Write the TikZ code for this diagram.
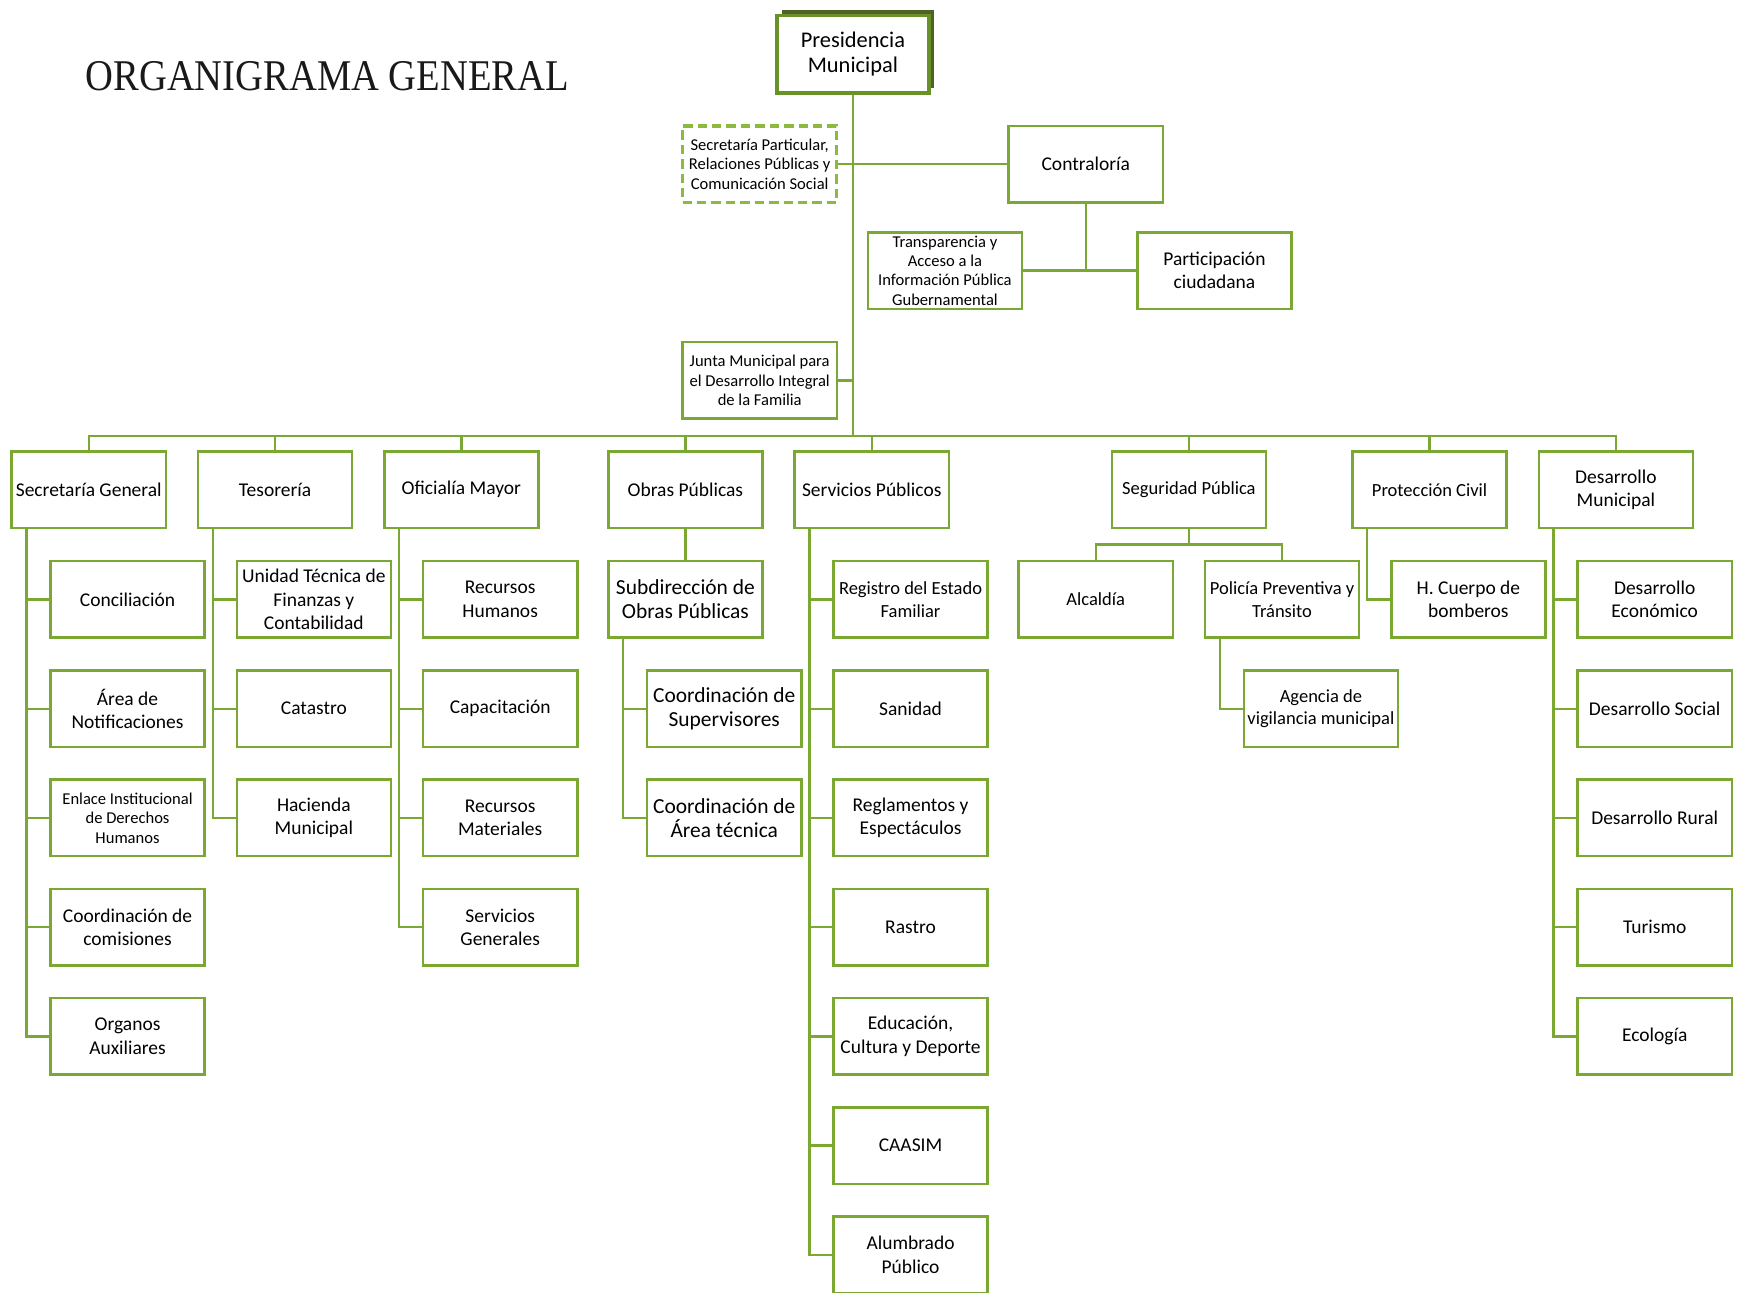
\documentclass[tikz,border=0pt]{standalone}
\usepackage{fontspec}
\setmainfont{Carlito}
\newfontfamily\titlefont[FakeStretch=0.88]{Liberation Serif}
\usetikzlibrary{shadows}
\definecolor{orggreen}{RGB}{122,168,50}
\definecolor{dashgreen}{RGB}{140,186,62}
\definecolor{presgreen}{RGB}{104,146,40}
\definecolor{presshadow}{RGB}{79,98,40}

\begin{document}
\begin{tikzpicture}[x=0.2mm,y=-0.2mm,
    unit/.style={draw=orggreen, line width=1.3pt, fill=white, minimum width=27.8mm, minimum height=13.8mm, align=center, inner sep=1pt, font=\fontsize{10}{12}\selectfont},
    midunit/.style={unit, font=\fontsize{9.5}{11.5}\selectfont},
    smallunit/.style={unit, inner sep=0.5pt, font=\fontsize{8.5}{10}\selectfont},
    bigunit/.style={unit, font=\fontsize{11}{12.5}\selectfont},
    link/.style={draw=orggreen, line width=1.2pt}]
    \useasboundingbox (0,0) rectangle (1568,1165);

    \node[anchor=base west, text=black!90, font=\titlefont\fontsize{22.5}{26}\selectfont] (title) at (71,82) {ORGANIGRAMA GENERAL};

    \node[unit, draw=presgreen, line width=1.8pt, minimum width=27.4mm, minimum height=14mm, font=\fontsize{11.5}{13}\selectfont,
        general shadow={fill=presshadow, shadow xshift=1mm, shadow yshift=1mm}] (pres) at (769,49) {Presidencia\\Municipal};
    \node[smallunit, draw=dashgreen, line width=1.7pt, dash pattern=on 1.7mm off 0.9mm] (spart) at (685,148) {Secretaría Particular,\\Relaciones Públicas y\\Comunicación Social};
    \node[unit] (contra) at (979,148) {Contraloría};
    \node[smallunit] (transp) at (852,244) {Transparencia y\\Acceso a la\\Información Pública\\Gubernamental};
    \node[unit] (partic) at (1095,244) {Participación\\ciudadana};
    \node[smallunit] (junta) at (685,343) {Junta Municipal para\\el Desarrollo Integral\\de la Familia};

    \node[unit] (secgen) at (80,441.5) {Secretaría General};
    \node[unit] (tesor) at (248,441.5) {Tesorería};
    \node[unit] (ofmay) at (416,441.5) {Oficialía Mayor};
    \node[unit] (obras) at (618,441.5) {Obras Públicas};
    \node[unit] (servp) at (786,441.5) {Servicios Públicos};
    \node[midunit] (segp) at (1072,441.5) {Seguridad Pública};
    \node[midunit] (protc) at (1289,441.5) {Protección Civil};
    \node[unit] (desm) at (1457,441.5) {Desarrollo\\Municipal};

    \node[unit] (conc) at (115,540.5) {Conciliación};
    \node[unit] (notif) at (115,639) {Área de\\Notificaciones};
    \node[smallunit] (dhum) at (115,737.5) {Enlace Institucional\\de Derechos\\Humanos};
    \node[unit] (comis) at (115,836) {Coordinación de\\comisiones};
    \node[unit] (organ) at (115,934.5) {Organos\\Auxiliares};

    \node[unit] (utfc) at (283,540.5) {Unidad Técnica de\\Finanzas y\\Contabilidad};
    \node[unit] (catas) at (283,639) {Catastro};
    \node[unit] (hacie) at (283,737.5) {Hacienda\\Municipal};

    \node[unit] (rhum) at (451,540.5) {Recursos\\Humanos};
    \node[unit] (capac) at (451,639) {Capacitación};
    \node[unit] (rmat) at (451,737.5) {Recursos\\Materiales};
    \node[unit] (sgen) at (451,836) {Servicios\\Generales};

    \node[bigunit] (subop) at (618,540.5) {Subdirección de\\Obras Públicas};
    \node[bigunit] (csup) at (653,639) {Coordinación de\\Supervisores};
    \node[bigunit] (carea) at (653,737.5) {Coordinación de\\Área técnica};

    \node[midunit] (regis) at (821,540.5) {Registro del Estado\\Familiar};
    \node[unit] (sanid) at (821,639) {Sanidad};
    \node[unit] (regla) at (821,737.5) {Reglamentos y\\Espectáculos};
    \node[unit] (rastro) at (821,836) {Rastro};
    \node[unit] (educ) at (821,934.5) {Educación,\\Cultura y Deporte};
    \node[unit] (caasim) at (821,1033) {CAASIM};
    \node[unit] (alumb) at (821,1131.5) {Alumbrado\\Público};

    \node[midunit] (alcal) at (988,540.5) {Alcaldía};
    \node[midunit] (polic) at (1156,540.5) {Policía Preventiva y\\Tránsito};
    \node[midunit] (agenc) at (1191,639) {Agencia de\\vigilancia municipal};

    \node[unit] (bomb) at (1324,540.5) {H. Cuerpo de\\bomberos};

    \node[unit] (deco) at (1492,540.5) {Desarrollo\\Económico};
    \node[unit] (dsoc) at (1492,639) {Desarrollo Social};
    \node[unit] (drur) at (1492,737.5) {Desarrollo Rural};
    \node[unit] (turis) at (1492,836) {Turismo};
    \node[unit] (ecol) at (1492,934.5) {Ecología};

    \coordinate (bus) at (769,393);
    \coordinate (segfork) at (1072,491);

    \draw[link] (pres.south) -- (bus);
    \draw[link] (spart.east) -- (contra.west);
    \draw[link] (junta.east) -- (junta.east -| pres.south);
    \draw[link] (contra.south) |- (transp.east);
    \draw[link] (contra.south) |- (partic.west);

    \draw[link] (bus) -| (secgen.north);
    \draw[link] (bus) -| (tesor.north);
    \draw[link] (bus) -| (ofmay.north);
    \draw[link] (bus) -| (obras.north);
    \draw[link] (bus) -| (servp.north);
    \draw[link] (bus) -| (segp.north);
    \draw[link] (bus) -| (protc.north);
    \draw[link] (bus) -| (desm.north);

    \draw[link] ([xshift=2.9mm]secgen.south west) |- (conc.west);
    \draw[link] ([xshift=2.9mm]secgen.south west) |- (notif.west);
    \draw[link] ([xshift=2.9mm]secgen.south west) |- (dhum.west);
    \draw[link] ([xshift=2.9mm]secgen.south west) |- (comis.west);
    \draw[link] ([xshift=2.9mm]secgen.south west) |- (organ.west);

    \draw[link] ([xshift=2.9mm]tesor.south west) |- (utfc.west);
    \draw[link] ([xshift=2.9mm]tesor.south west) |- (catas.west);
    \draw[link] ([xshift=2.9mm]tesor.south west) |- (hacie.west);

    \draw[link] ([xshift=2.9mm]ofmay.south west) |- (rhum.west);
    \draw[link] ([xshift=2.9mm]ofmay.south west) |- (capac.west);
    \draw[link] ([xshift=2.9mm]ofmay.south west) |- (rmat.west);
    \draw[link] ([xshift=2.9mm]ofmay.south west) |- (sgen.west);

    \draw[link] (obras.south) -- (subop.north);
    \draw[link] ([xshift=2.9mm]subop.south west) |- (csup.west);
    \draw[link] ([xshift=2.9mm]subop.south west) |- (carea.west);

    \draw[link] ([xshift=2.9mm]servp.south west) |- (regis.west);
    \draw[link] ([xshift=2.9mm]servp.south west) |- (sanid.west);
    \draw[link] ([xshift=2.9mm]servp.south west) |- (regla.west);
    \draw[link] ([xshift=2.9mm]servp.south west) |- (rastro.west);
    \draw[link] ([xshift=2.9mm]servp.south west) |- (educ.west);
    \draw[link] ([xshift=2.9mm]servp.south west) |- (caasim.west);
    \draw[link] ([xshift=2.9mm]servp.south west) |- (alumb.west);

    \draw[link] (segp.south) -- (segfork) -| (alcal.north);
    \draw[link] (segfork) -| (polic.north);
    \draw[link] ([xshift=2.9mm]polic.south west) |- (agenc.west);

    \draw[link] ([xshift=2.9mm]protc.south west) |- (bomb.west);

    \draw[link] ([xshift=2.9mm]desm.south west) |- (deco.west);
    \draw[link] ([xshift=2.9mm]desm.south west) |- (dsoc.west);
    \draw[link] ([xshift=2.9mm]desm.south west) |- (drur.west);
    \draw[link] ([xshift=2.9mm]desm.south west) |- (turis.west);
    \draw[link] ([xshift=2.9mm]desm.south west) |- (ecol.west);
\end{tikzpicture}
\end{document}
